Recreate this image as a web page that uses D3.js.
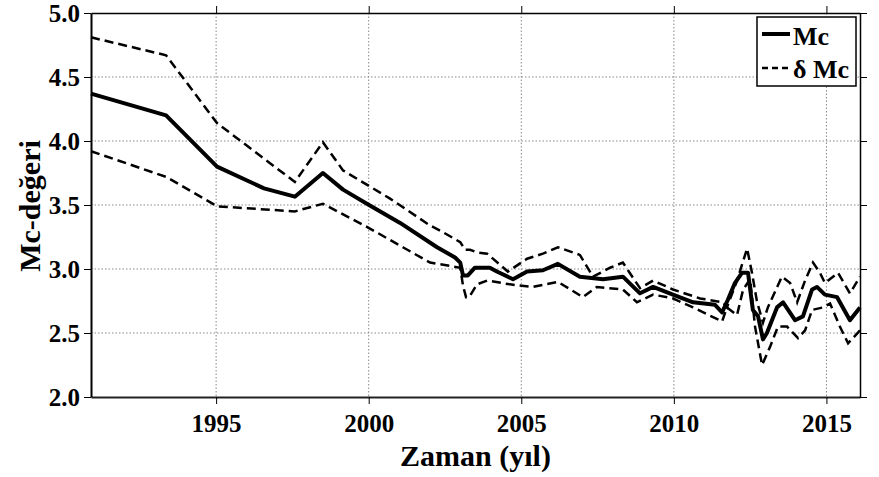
<!DOCTYPE html>
<html>
<head>
<meta charset="utf-8">
<script src="https://cdn.jsdelivr.net/npm/d3@7"></script>
<style>
  body { margin: 0; background: #fff; }
  svg text { font-family: "Liberation Serif", "Times New Roman", serif; font-weight: bold; fill: #000; }
</style>
</head>
<body>
<div id="chart"></div>
<script>

// Mc (solid)
const mcYears = [1990.9, 1993.36, 1995.03, 1996.57, 1997.58, 1998.5, 1999.16, 2000.01, 2001.03, 2002.24,
  2002.83, 2003.0, 2003.09, 2003.25, 2003.48, 2003.97, 2004.2, 2004.73, 2005.19, 2005.71,
  2006.2, 2006.92, 2007.68, 2008.33, 2008.89, 2009.32, 2009.97, 2010.63, 2011.35, 2011.58,
  2011.77, 2012.0, 2012.23, 2012.43, 2012.59, 2012.76, 2012.92, 2013.05, 2013.38, 2013.58,
  2013.97, 2014.23, 2014.53, 2014.69, 2014.95, 2015.35, 2015.77, 2016.1];
const mcValues = [4.37, 4.20, 3.80, 3.63, 3.565, 3.75, 3.62, 3.50, 3.36, 3.17,
  3.09, 3.05, 2.95, 2.95, 3.01, 3.01, 2.98, 2.92, 2.98, 2.99,
  3.04, 2.94, 2.92, 2.94, 2.81, 2.86, 2.80, 2.74, 2.72, 2.66,
  2.76, 2.89, 2.97, 2.97, 2.68, 2.63, 2.45, 2.50, 2.70, 2.74,
  2.60, 2.63, 2.84, 2.86, 2.80, 2.78, 2.60, 2.70];

// Mc + dMc (upper dashed)
const upperYears = [1990.9, 1993.36, 1995.03, 1997.58, 1998.5, 1999.16, 2000.7, 2002.01, 2002.34, 2003.0,
  2003.16, 2003.32, 2003.55, 2003.88, 2004.56, 2005.19, 2005.71, 2006.2, 2006.92, 2007.35,
  2007.91, 2008.33, 2008.89, 2009.32, 2009.97, 2010.86, 2011.61, 2011.74, 2012.07, 2012.4,
  2012.56, 2012.72, 2012.92, 2013.08, 2013.54, 2013.81, 2014.04, 2014.3, 2014.56, 2014.79,
  2014.95, 2015.38, 2015.77, 2016.1];
const upperValues = [4.81, 4.67, 4.14, 3.68, 3.99, 3.77, 3.55, 3.34, 3.30, 3.21,
  3.15, 3.15, 3.13, 3.12, 2.98, 3.08, 3.12, 3.17, 3.11, 2.94,
  3.01, 3.05, 2.85, 2.91, 2.84, 2.77, 2.74, 2.70, 2.91, 3.16,
  2.97, 2.75, 2.58, 2.70, 2.94, 2.89, 2.74, 2.91, 3.05, 2.97,
  2.89, 2.97, 2.81, 2.94];

// Mc - dMc (lower dashed)
const lowerYears = [1990.9, 1993.36, 1995.03, 1997.58, 1998.5, 2000.01, 2001.12, 2002.01, 2002.76, 2003.0,
  2003.09, 2003.19, 2003.29, 2003.55, 2003.88, 2004.63, 2005.38, 2006.2, 2007.02, 2007.48,
  2008.33, 2008.79, 2009.32, 2009.97, 2010.63, 2011.58, 2011.74, 2012.07, 2012.27, 2012.5,
  2012.66, 2012.89, 2013.15, 2013.41, 2013.71, 2014.07, 2014.3, 2014.53, 2014.89, 2015.12,
  2015.44, 2015.71, 2016.1];
const lowerValues = [3.92, 3.72, 3.49, 3.45, 3.51, 3.32, 3.17, 3.05, 3.02, 3.01,
  2.87, 2.78, 2.78, 2.88, 2.91, 2.88, 2.86, 2.90, 2.78, 2.86,
  2.84, 2.74, 2.80, 2.77, 2.70, 2.59, 2.70, 2.64, 2.84, 2.92,
  2.55, 2.25, 2.39, 2.55, 2.55, 2.46, 2.52, 2.68, 2.70, 2.73,
  2.55, 2.42, 2.52];

const xTicks = [1995, 2000, 2005, 2010, 2015];
const yTicks = [2.0, 2.5, 3.0, 3.5, 4.0, 4.5, 5.0];
const legendLabels = ["Mc", "\u03b4 Mc"];

const margin = {top: 13, right: 19, bottom: 80, left: 91};
const width = 879 - margin.left - margin.right;
const height = 477 - margin.top - margin.bottom;

const x = d3.scaleLinear().domain([1990.9, 2016.1]).range([0, width]);
const y = d3.scaleLinear().domain([2, 5]).range([height, 0]);

const svg = d3.select("#chart")
  .append("svg")
  .attr("width", 879)
  .attr("height", 477)
  .append("g")
  .attr("transform", "translate(" + margin.left + "," + margin.top + ")");

// grid
svg.append("g")
  .selectAll("line")
  .data(xTicks)
  .enter()
  .append("line")
  .attr("x1", d => x(d)).attr("x2", d => x(d))
  .attr("y1", 0).attr("y2", height)
  .attr("stroke", "#888").attr("stroke-width", 1).attr("stroke-dasharray", "1.5,2");

svg.append("g")
  .selectAll("line")
  .data(yTicks.slice(1, -1))
  .enter()
  .append("line")
  .attr("x1", 0).attr("x2", width)
  .attr("y1", d => y(d)).attr("y2", d => y(d))
  .attr("stroke", "#888").attr("stroke-width", 1).attr("stroke-dasharray", "1.5,2");

// lines
const line = d3.line()
  .x(d => x(d[0]))
  .y(d => y(d[1]));

svg.append("path")
  .datum(d3.zip(upperYears, upperValues))
  .attr("d", line)
  .attr("fill", "none").attr("stroke", "#000").attr("stroke-width", 2.5)
  .attr("stroke-dasharray", "9,5");

svg.append("path")
  .datum(d3.zip(lowerYears, lowerValues))
  .attr("d", line)
  .attr("fill", "none").attr("stroke", "#000").attr("stroke-width", 2.5)
  .attr("stroke-dasharray", "9,5");

svg.append("path")
  .datum(d3.zip(mcYears, mcValues))
  .attr("d", line)
  .attr("fill", "none").attr("stroke", "#000").attr("stroke-width", 4)
  .attr("stroke-linejoin", "round");

// axes
const xAxis = svg.append("g")
  .attr("transform", "translate(0," + height + ")")
  .call(d3.axisBottom(x).tickValues(xTicks).tickFormat(d3.format("d")).tickSize(7).tickSizeOuter(0));
xAxis.select(".domain").attr("stroke", "#222").attr("stroke-width", 2);
xAxis.selectAll("text").attr("dy", null).attr("y", 35).style("font-size", "25px");

const yAxis = svg.append("g")
  .call(d3.axisLeft(y).tickValues(yTicks).tickFormat(d3.format(".1f")).tickSize(7).tickSizeOuter(0));
yAxis.select(".domain").attr("stroke", "#000").attr("stroke-width", 2);
yAxis.selectAll("text").attr("x", -11).style("font-size", "25px");

const topAxis = svg.append("g")
  .call(d3.axisTop(x).tickValues(xTicks).tickFormat("").tickSize(7).tickSizeOuter(0));
topAxis.select(".domain").attr("stroke-width", 1.5);

const rightAxis = svg.append("g")
  .attr("transform", "translate(" + width + ",0)")
  .call(d3.axisRight(y).tickValues(yTicks).tickFormat("").tickSize(7).tickSizeOuter(0));
rightAxis.select(".domain").attr("stroke-width", 1.5);

// axis titles
svg.append("text")
  .attr("x", width / 2)
  .attr("y", 466 - margin.top)
  .attr("text-anchor", "middle")
  .style("font-size", "30px")
  .text("Zaman (y\u0131l)");

svg.append("text")
  .attr("transform", "rotate(-90)")
  .attr("x", -(206 - margin.top))
  .attr("y", 40 - margin.left)
  .attr("text-anchor", "middle")
  .style("font-size", "30px")
  .text("Mc-de\u011feri");

// legend
const legend = svg.append("g")
  .attr("transform", "translate(" + (757 - margin.left) + "," + (17 - margin.top) + ")");

legend.append("rect")
  .attr("width", 99).attr("height", 69)
  .attr("fill", "#fff").attr("stroke", "#000").attr("stroke-width", 1.5);

legend.selectAll(".sample")
  .data(legendLabels)
  .enter()
  .append("line")
  .attr("x1", 5).attr("x2", 33)
  .attr("y1", (d, i) => 17 + i * 34).attr("y2", (d, i) => 17 + i * 34)
  .attr("stroke", "#000")
  .attr("stroke-width", (d, i) => i === 0 ? 4 : 2.5)
  .attr("stroke-dasharray", (d, i) => i === 0 ? null : "6,4");

legend.selectAll(".label")
  .data(legendLabels)
  .enter()
  .append("text")
  .attr("x", 36)
  .attr("y", (d, i) => 28 + i * 33)
  .style("font-size", "26px")
  .text(d => d);

</script>
</body>
</html>
